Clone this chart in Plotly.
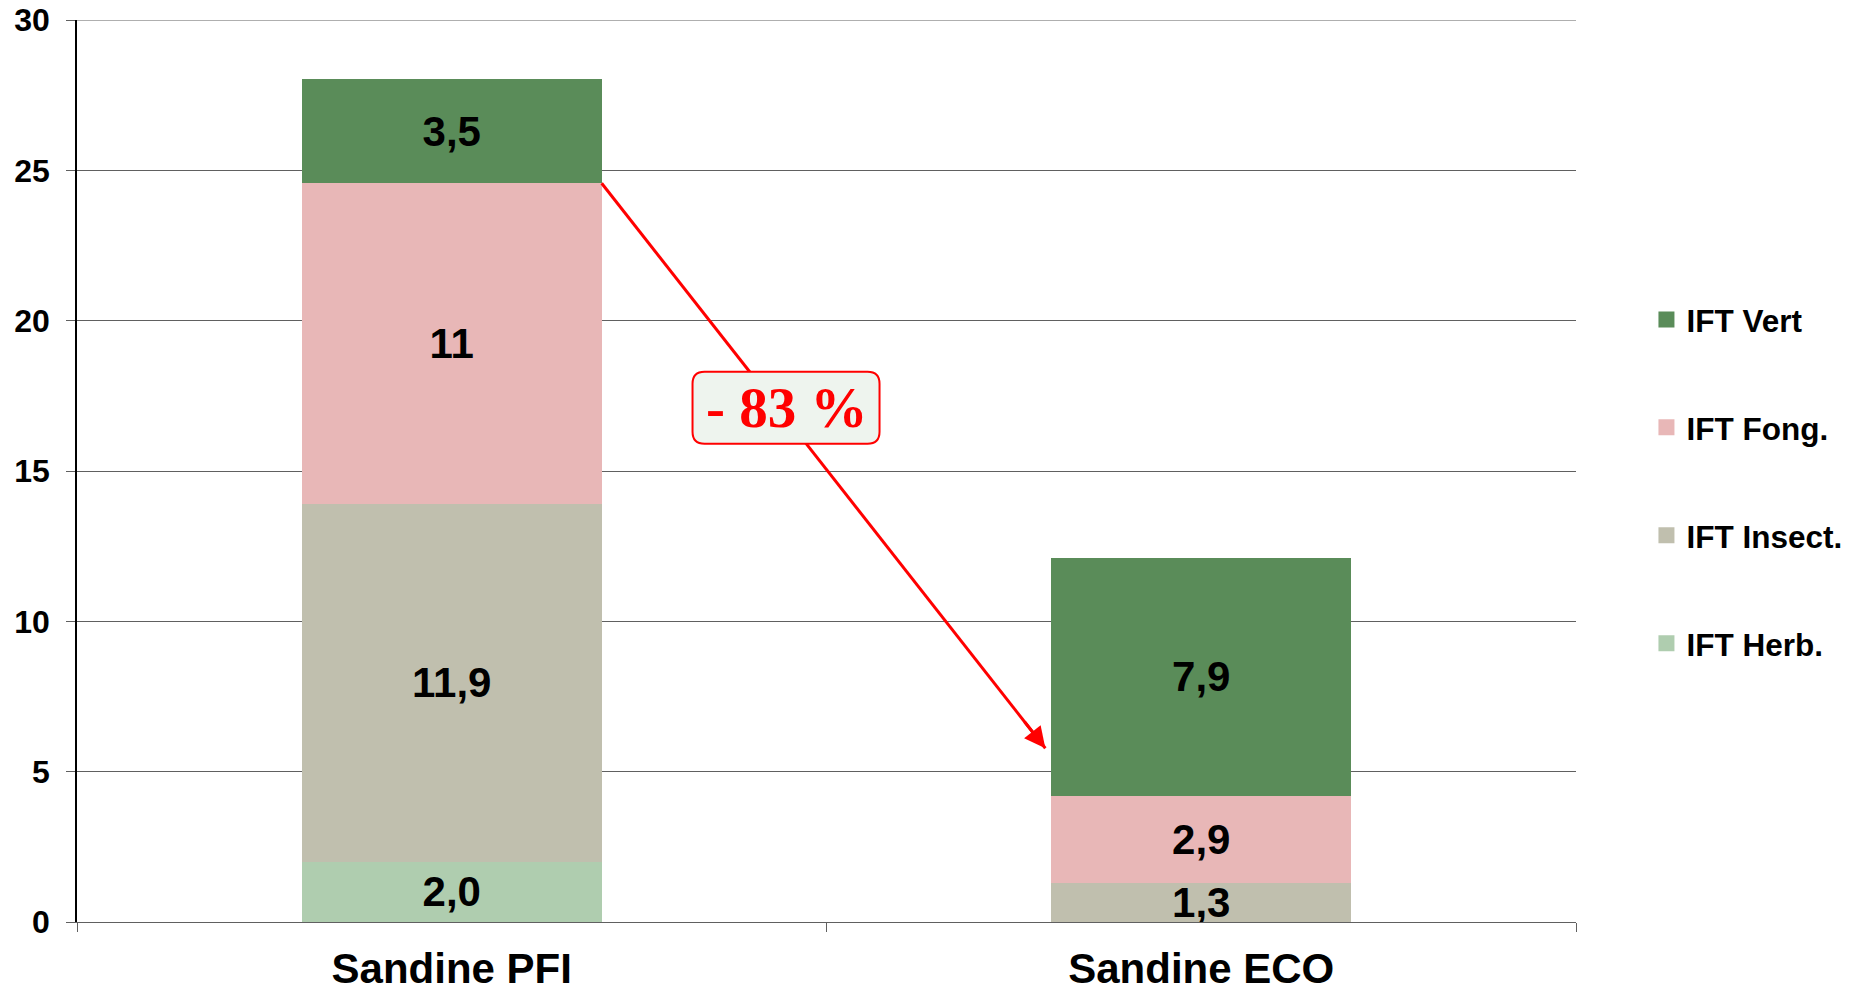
import plotly.graph_objects as go

categories = ["Sandine PFI", "Sandine ECO"]
series_names = ["IFT Herb.", "IFT Insect.", "IFT Fong.", "IFT Vert"]
herb = [2.0, 0.0]
insect = [11.9, 1.3]
fong = [10.67, 2.9]
vert = [3.46, 7.9]
herb_labels = ["2,0", ""]
insect_labels = ["11,9", "1,3"]
fong_labels = ["11", "2,9"]
vert_labels = ["3,5", "7,9"]
colors = ["#AFCDAF", "#C0BFAE", "#E8B7B7", "#5A8C59"]
legend_rank = [4, 3, 2, 1]
y_ticks = [0, 5, 10, 15, 20, 25, 30]
reduction_label = "- 83 %"

FONT = "Liberation Sans, Arial, sans-serif"

fig = go.Figure()
for name, vals, labels, col in zip(series_names,
                                   [herb, insect, fong, vert],
                                   [herb_labels, insect_labels, fong_labels, vert_labels],
                                   colors):
    fig.add_trace(go.Bar(
        x=categories, y=vals, name=name, text=labels,
        marker=dict(color=col, line=dict(width=0)),
        textposition="inside", insidetextanchor="middle", textangle=0,
        constraintext="none",
        textfont=dict(family=FONT, size=42, color="black", weight="bold"),
        showlegend=False,
        hoverinfo="skip",
    ))

# legend entries (square swatches)
for name, col, rank in zip(series_names, colors, legend_rank):
    fig.add_trace(go.Scatter(
        x=[None], y=[None], mode="markers", name=name,
        marker=dict(symbol="square", size=16, color=col),
        legendgroup=name, legendrank=rank, showlegend=True,
    ))

fig.update_layout(
    barmode="stack",
    bargap=0.6,
    width=1846, height=984,
    margin=dict(l=69, r=278, t=12, b=70, autoexpand=False),
    paper_bgcolor="white", plot_bgcolor="white",
    showlegend=True,
    legend=dict(
        traceorder="grouped",
        tracegroupgap=64,
        x=1.047, xanchor="left", y=0.698, yanchor="top",
        font=dict(family=FONT, size=31.5, color="black", weight="bold"),
        itemwidth=30,
        bgcolor="rgba(0,0,0,0)",
    ),
    xaxis=dict(
        type="category",
        tickson="boundaries",
        ticks="outside", ticklen=9, tickcolor="#606060", tickwidth=1,
        showline=True, linecolor="#606060", linewidth=1,
        showgrid=False,
        tickfont=dict(family=FONT, size=42, color="black", weight="bold"),
        ticklabelstandoff=10,
        ticklabeloverflow="allow",
        range=[-0.5, 1.5],
        automargin=False,
    ),
    yaxis=dict(
        range=[0, 30],
        tickvals=y_ticks,
        ticktext=[str(v) for v in y_ticks],
        ticks="outside", ticklen=9, tickcolor="#606060", tickwidth=1,
        showline=True, linecolor="black", linewidth=1.5,
        showgrid=True, gridcolor="#606060", gridwidth=1,
        zeroline=False,
        tickfont=dict(family=FONT, size=32, color="black", weight="bold"),
        ticklabelstandoff=10,
        ticklabeloverflow="allow",
        automargin=False,
    ),
)

# top gridline at the upper end of the axis
fig.add_shape(type="line", xref="paper", yref="y", x0=0, x1=1,
              y0=y_ticks[-1], y1=y_ticks[-1], layer="below",
              line=dict(color="#606060", width=1))

# arrow line from PFI top (Fong) to ECO
tail = (0.2, herb[0] + insect[0] + fong[0])
head = (0.792, 5.78)
fig.add_shape(type="line", xref="x", yref="y",
              x0=tail[0], y0=tail[1], x1=head[0], y1=head[1],
              line=dict(color="#FF0000", width=3))

# arrowhead
fig.add_annotation(x=head[0], y=head[1], xref="x", yref="y",
                   ax=-22, ay=-28, axref="pixel", ayref="pixel",
                   showarrow=True, arrowhead=2, arrowsize=1.4, arrowwidth=3,
                   arrowcolor="#FF0000", text="", standoff=0)

# rounded box
bx, by = 0.446, 17.1
w, h, r = 93.5, 36, 12
path = (f"M {-w+r},{-h} L {w-r},{-h} Q {w},{-h} {w},{-h+r} L {w},{h-r} "
        f"Q {w},{h} {w-r},{h} L {-w+r},{h} Q {-w},{h} {-w},{h-r} "
        f"L {-w},{-h+r} Q {-w},{-h} {-w+r},{-h} Z")
fig.add_shape(type="path", xref="x", yref="y",
              xsizemode="pixel", ysizemode="pixel",
              xanchor=bx, yanchor=by, path=path,
              fillcolor="#EEF4EE", line=dict(color="#FF0000", width=2))
fig.add_annotation(x=bx, y=by, xref="x", yref="y", showarrow=False,
                   text=reduction_label,
                   font=dict(family="Liberation Serif, Times New Roman, serif",
                             size=57, color="#FF0000", weight="bold"))

fig.write_html("out.html")
